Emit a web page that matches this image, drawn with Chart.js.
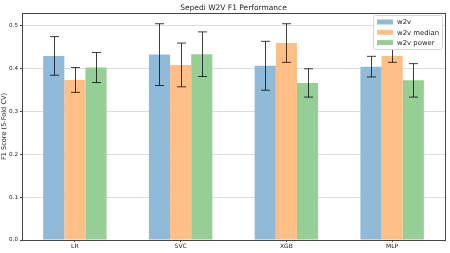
<!DOCTYPE html>
<html>
<head>
<meta charset="utf-8">
<script src="https://cdn.jsdelivr.net/npm/chart.js@4.4.1/dist/chart.umd.min.js"></script>
<style>
  html, body { margin: 0; padding: 0; background: #ffffff; }
  #wrap { width: 450px; height: 253px; position: relative; }
</style>
</head>
<body>
<div id="wrap"><canvas id="f1Chart"></canvas></div>
<script>
// models on the x axis
const models = ['LR', 'SVC', 'XGB', 'MLP'];

// mean F1 per model
const w2vMean = [0.429, 0.432, 0.406, 0.404];
const medianMean = [0.373, 0.408, 0.459, 0.429];
const powerMean = [0.402, 0.433, 0.366, 0.372];

// std over the 5 folds (error bars)
const w2vStd = [0.045, 0.072, 0.057, 0.024];
const medianStd = [0.029, 0.051, 0.045, 0.015];
const powerStd = [0.035, 0.052, 0.033, 0.039];

const yTicks = [0.0, 0.1, 0.2, 0.3, 0.4, 0.5];

const FONT = "'DejaVu Sans', sans-serif";

// error bars, title, frame, y label and legend
const extras = {
    id: 'extras',
    afterDatasetsDraw(chart) {
        const ctx = chart.ctx;
        const y = chart.scales.y;
        ctx.save();
        ctx.strokeStyle = 'rgba(0,0,0,0.75)';
        ctx.lineWidth = 1;
        chart.data.datasets.forEach((ds, di) => {
            const meta = chart.getDatasetMeta(di);
            meta.data.forEach((bar, i) => {
                const x = Math.round(bar.x) + 0.5;
                const top = y.getPixelForValue(ds.data[i] + ds.err[i]);
                const bot = y.getPixelForValue(ds.data[i] - ds.err[i]);
                ctx.beginPath();
                ctx.moveTo(x, top);
                ctx.lineTo(x, bot);
                ctx.moveTo(x - 4.5, top);
                ctx.lineTo(x + 4.5, top);
                ctx.moveTo(x - 4.5, bot);
                ctx.lineTo(x + 4.5, bot);
                ctx.stroke();
            });
        });
        ctx.restore();
    },
    afterDraw(chart) {
        const ctx = chart.ctx;
        const a = chart.chartArea;
        ctx.save();

        // frame
        ctx.strokeStyle = '#444';
        ctx.lineWidth = 1;
        ctx.strokeRect(Math.round(a.left) + 0.5, Math.round(a.top) + 0.5,
            Math.round(a.right - a.left), Math.round(a.bottom - a.top));

        // title
        ctx.fillStyle = '#222';
        ctx.font = '7.5px ' + FONT;
        ctx.textAlign = 'center';
        ctx.textBaseline = 'alphabetic';
        ctx.fillText('Sepedi W2V F1 Performance', (a.left + a.right) / 2, 10);

        // y label
        ctx.save();
        ctx.translate(4.5, (a.top + a.bottom) / 2);
        ctx.rotate(-Math.PI / 2);
        ctx.font = '6.6px ' + FONT;
        ctx.textBaseline = 'middle';
        ctx.fillText('F1 Score (5-Fold CV)', 0, 0);
        ctx.restore();

        // legend box
        const lx = 373, ly = 15, lw = 69, lh = 34;
        ctx.fillStyle = 'rgba(255,255,255,0.85)';
        ctx.strokeStyle = '#d6d6d6';
        ctx.beginPath();
        ctx.roundRect(lx + 0.5, ly + 0.5, lw, lh, 2);
        ctx.fill();
        ctx.stroke();
        ctx.font = '6.9px ' + FONT;
        ctx.textAlign = 'left';
        ctx.textBaseline = 'middle';
        chart.data.datasets.forEach((ds, i) => {
            const ry = 22 + i * 10.3;
            ctx.fillStyle = ds.backgroundColor;
            ctx.fillRect(377, ry - 2.5, 16, 5);
            ctx.fillStyle = '#222';
            ctx.fillText(ds.label, 397, ry + 0.5);
        });

        ctx.restore();
    }
};

new Chart(document.getElementById('f1Chart'), {
    type: 'bar',
    data: {
        labels: models,
        datasets: [
            { label: 'w2v', data: w2vMean, err: w2vStd, backgroundColor: '#8fbbd9' },
            { label: 'w2v median', data: medianMean, err: medianStd, backgroundColor: '#ffbf86' },
            { label: 'w2v power', data: powerMean, err: powerStd, backgroundColor: '#95cf95' }
        ]
    },
    options: {
        responsive: true,
        maintainAspectRatio: false,
        animation: false,
        layout: { padding: { top: 13, right: 5, left: 0, bottom: 0 } },
        datasets: {
            bar: { categoryPercentage: 0.6, barPercentage: 1.0, borderWidth: 0 }
        },
        plugins: {
            legend: { display: false },
            title: { display: false },
            tooltip: { enabled: false }
        },
        scales: {
            x: {
                afterFit(scale) { scale.height = 13; },
                grid: { offset: false, drawOnChartArea: false, tickLength: 2, tickColor: '#444' },
                border: { display: false },
                ticks: { color: '#222', font: { family: FONT, size: 6 }, padding: 1, maxRotation: 0 }
            },
            y: {
                min: 0,
                max: 0.529,
                afterFit(scale) { scale.width = 22; },
                afterBuildTicks(scale) {
                    scale.ticks = yTicks.map(v => ({ value: v }));
                },
                grid: { color: '#dcdcdc', tickLength: 2, tickColor: '#444' },
                border: { display: false },
                ticks: {
                    color: '#222',
                    font: { family: FONT, size: 5.6 },
                    padding: 2,
                    callback: v => Number(v).toFixed(1)
                }
            }
        }
    },
    plugins: [extras]
});
</script>
</body>
</html>
